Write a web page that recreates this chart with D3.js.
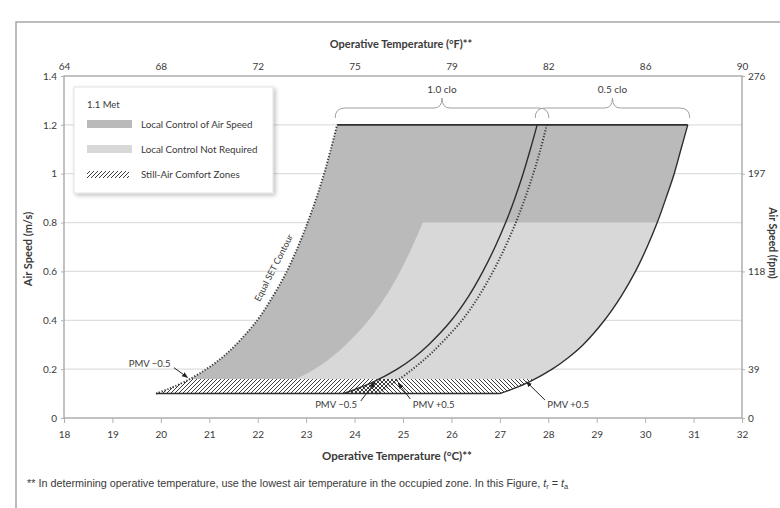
<!DOCTYPE html>
<html>
<head>
<meta charset="utf-8">
<script src="https://cdn.jsdelivr.net/npm/d3@7"></script>
<style>
  html, body { margin: 0; padding: 0; background: #fff; }
  svg { display: block; }
  text { font-family: Lato, "Open Sans", sans-serif; fill: #3a3a3a; }
  .foot { font-family: "Liberation Sans", Arial, sans-serif; }
</style>
</head>
<body>
<svg id="chart" width="780" height="508"></svg>
<script>
// ---------- data ----------
const celsiusTicks = [18, 19, 20, 21, 22, 23, 24, 25, 26, 27, 28, 29, 30, 31, 32];
const fahrenheitAt = [18, 20, 22, 24, 26, 28, 30, 32];
const fahrenheitLabels = ["64", "68", "72", "75", "79", "82", "86", "90"];
const speedTicks = [0, 0.2, 0.4, 0.6, 0.8, 1, 1.2, 1.4];
const fpmAt = [0, 0.2, 0.6, 1.0, 1.4];
const fpmLabels = ["0", "39", "118", "197", "276"];

// curves: air speed (m/s) and operative temp (°C)
const speeds = [0.10, 0.12, 0.15, 0.20, 0.25, 0.30, 0.40, 0.50, 0.60, 0.70, 0.80, 0.90, 1.00, 1.10, 1.20];
const tLeft10clo  = [19.90, 20.17, 20.51, 20.94, 21.28, 21.55, 21.99, 22.32, 22.60, 22.83, 23.03, 23.21, 23.37, 23.51, 23.64];
const tRight10clo = [24.45, 24.63, 24.86, 25.20, 25.50, 25.76, 26.22, 26.57, 26.86, 27.11, 27.33, 27.52, 27.69, 27.84, 27.97];
const tLeft05clo  = [23.76, 24.05, 24.41, 24.88, 25.24, 25.53, 26.00, 26.36, 26.65, 26.90, 27.12, 27.31, 27.48, 27.63, 27.77];
const tRight05clo = [27.00, 27.28, 27.63, 28.08, 28.43, 28.72, 29.16, 29.51, 29.80, 30.04, 30.25, 30.43, 30.60, 30.74, 30.88];
// upper edge of "local control not required" (0.15 m/s .. 0.8 m/s)
const edgeSpeeds = [0.15, 0.20, 0.25, 0.30, 0.40, 0.50, 0.60, 0.70, 0.80];
const tNoControl = [22.70, 23.17, 23.53, 23.82, 24.29, 24.65, 24.94, 25.19, 25.41];

const stillAirTop = 0.16, stillAirBottom = 0.10, noControlTop = 0.8, maxSpeed = 1.2;

const legendItems = ["Local Control of Air Speed", "Local Control Not Required", "Still-Air Comfort Zones"];
const cloLabels = ["1.0 clo", "0.5 clo"];

// ---------- setup ----------
const svg = d3.select("#chart");
const x = d3.scaleLinear().domain([18, 32]).range([64, 742]);
const y = d3.scaleLinear().domain([0, 1.4]).range([418, 76]);

const DARK = "#bababa", LIGHT = "#d8d8d8", INK = "#2e2e2e";

const pts = (ts, vs) => ts.map((t, i) => [t, vs[i]]);
const left10 = pts(tLeft10clo, speeds), right10 = pts(tRight10clo, speeds);
const left05 = pts(tLeft05clo, speeds), right05 = pts(tRight05clo, speeds);
const noCtl = pts(tNoControl, edgeSpeeds);

const defs = svg.append("defs");
function hatch(id, d) {
  defs.append("pattern").attr("id", id).attr("patternUnits", "userSpaceOnUse")
    .attr("width", 4).attr("height", 4)
    .append("path").attr("d", d).attr("stroke", "#333").attr("stroke-width", 0.95);
}
hatch("hatchF", "M-1,1 l2,-2 M0,4 l4,-4 M3,5 l2,-2");
hatch("hatchB", "M-1,3 l2,2 M0,0 l4,4 M3,-1 l2,2");

function bandClip(id, v0, v1) {
  defs.append("clipPath").attr("id", id).append("rect")
    .attr("x", 0).attr("width", 780).attr("y", y(v1)).attr("height", y(v0) - y(v1));
}
bandClip("clipStill", stillAirBottom, stillAirTop);
bandClip("clipAbove", stillAirTop, maxSpeed);
bandClip("clipLight", stillAirTop, noControlTop);

const shadow = defs.append("filter").attr("id", "shadow").attr("x", "-10%").attr("y", "-10%").attr("width", "130%").attr("height", "130%");
shadow.append("feDropShadow").attr("dx", 2).attr("dy", 2).attr("stdDeviation", 2).attr("flood-color", "#000").attr("flood-opacity", 0.25);

// outer frame
svg.append("rect").attr("x", 16).attr("y", 22).attr("width", 800).attr("height", 520)
  .attr("fill", "none").attr("stroke", "#a8a8a8").attr("stroke-width", 1.5);

// ---------- grid + axes ----------
svg.append("g").selectAll("line").data(speedTicks.filter((v) => v > 0 && v < 1.4)).join("line")
  .attr("x1", x(18)).attr("x2", x(32)).attr("y1", (v) => y(v)).attr("y2", (v) => y(v))
  .attr("stroke", "#dedede").attr("stroke-width", 1.2);

svg.append("rect").attr("x", x(18)).attr("y", y(1.4)).attr("width", x(32) - x(18)).attr("height", y(0) - y(1.4))
  .attr("fill", "none").attr("stroke", "#9a9a9a").attr("stroke-width", 1.2);

const tickStyle = (g) => {
  g.select(".domain").remove();
  g.selectAll(".tick line").attr("stroke", "#b0b0b0");
  g.selectAll(".tick text").attr("font-size", 10).attr("fill", "#444").attr("font-family", "Lato, sans-serif");
};

svg.append("g").attr("transform", `translate(0,${y(0)})`)
  .call(d3.axisBottom(x).tickValues(celsiusTicks).tickSize(5).tickPadding(8).tickFormat(d3.format("d")))
  .call(tickStyle);

svg.append("g").attr("transform", `translate(0,${y(1.4)})`)
  .call(d3.axisTop(x).tickValues(fahrenheitAt).tickSize(0).tickPadding(6).tickFormat((d, i) => fahrenheitLabels[i]))
  .call(tickStyle);

svg.append("g").attr("transform", `translate(${x(18)},0)`)
  .call(d3.axisLeft(y).tickValues(speedTicks).tickSize(3).tickPadding(4).tickFormat((d) => String(d)))
  .call(tickStyle);

svg.append("g").attr("transform", `translate(${x(32)},0)`)
  .call(d3.axisRight(y).tickValues(fpmAt).tickSize(3).tickPadding(3).tickFormat((d, i) => fpmLabels[i]))
  .call(tickStyle);

// axis titles
svg.append("text").attr("x", 401).attr("y", 48).attr("text-anchor", "middle")
  .attr("font-size", 11).attr("font-weight", 700).text("Operative Temperature (°F)**");
svg.append("text").attr("x", 397).attr("y", 460).attr("text-anchor", "middle")
  .attr("font-size", 11.5).attr("font-weight", 700).text("Operative Temperature (°C)**");
svg.append("text").attr("transform", `translate(32,${(y(0) + y(1.4)) / 2 + 2}) rotate(-90)`).attr("text-anchor", "middle")
  .attr("font-size", 11).attr("font-weight", 700).text("Air Speed (m/s)");
svg.append("text").attr("transform", `translate(769,243) rotate(90)`).attr("text-anchor", "middle")
  .attr("font-size", 10.5).attr("font-weight", 700).text("Air Speed (fpm)");

// ---------- regions ----------
const line = d3.line().x((d) => x(d[0])).y((d) => y(d[1])).curve(d3.curveCatmullRom.alpha(0.5));
const between = (left, right) => line(left) + line(right.slice().reverse()).replace(/^M/, "L") + "Z";

const plot = svg.append("g");
// local control of air speed (whole zone above still air)
plot.append("path").attr("d", between(left10, right05)).attr("fill", DARK).attr("clip-path", "url(#clipAbove)");
// local control not required (up to 0.8 m/s)
plot.append("path").attr("d", between(noCtl, right05)).attr("fill", LIGHT).attr("clip-path", "url(#clipLight)");
// still-air zones
plot.append("path").attr("d", between(left10, right05)).attr("fill", "#fff").attr("clip-path", "url(#clipStill)");
plot.append("path").attr("d", between(left10, right10)).attr("fill", "url(#hatchF)").attr("clip-path", "url(#clipStill)");
plot.append("path").attr("d", between(left05, right05)).attr("fill", "url(#hatchB)").attr("clip-path", "url(#clipStill)");

// boundaries
[left10, right10].forEach((c) => plot.append("path").attr("d", line(c)).attr("fill", "none").attr("stroke", "#3a3a3a")
  .attr("stroke-width", 2).attr("stroke-dasharray", "1.2,1.8"));
[left05, right05].forEach((c) => plot.append("path").attr("d", line(c)).attr("fill", "none").attr("stroke", INK)
  .attr("stroke-width", 1.4));
plot.append("line").attr("x1", x(tLeft10clo[tLeft10clo.length - 1])).attr("x2", x(tRight05clo[tRight05clo.length - 1]))
  .attr("y1", y(maxSpeed)).attr("y2", y(maxSpeed)).attr("stroke", INK).attr("stroke-width", 1.6);
plot.append("line").attr("x1", x(tLeft10clo[0])).attr("x2", x(tRight05clo[0]))
  .attr("y1", y(stillAirBottom)).attr("y2", y(stillAirBottom)).attr("stroke", INK).attr("stroke-width", 1.6);

// ---------- clo braces ----------
function brace(x0, x1) {
  const xm = (x0 + x1) / 2, yb = 118, yh = 108, yp = 98;
  return `M${x0},${yb} Q${x0},${yh} ${x0 + 10},${yh} L${xm - 8},${yh} Q${xm},${yh} ${xm},${yp}` +
    ` Q${xm},${yh} ${xm + 8},${yh} L${x1 - 10},${yh} Q${x1},${yh} ${x1},${yb}`;
}
[[tLeft10clo, tRight10clo], [tLeft05clo, tRight05clo]].forEach(([l, r], i) => {
  const x0 = x(l[l.length - 1]) - 2, x1 = x(r[r.length - 1]) + 2;
  svg.append("path").attr("d", brace(x0, x1)).attr("fill", "none").attr("stroke", "#a0a0a0").attr("stroke-width", 1);
  svg.append("text").attr("x", (x0 + x1) / 2).attr("y", 93).attr("text-anchor", "middle")
    .attr("font-size", 10).text(cloLabels[i]);
});

// ---------- annotations ----------
const arrowHead = defs.append("marker").attr("id", "arrow").attr("viewBox", "0 0 10 10")
  .attr("refX", 9).attr("refY", 5).attr("markerWidth", 6).attr("markerHeight", 6).attr("orient", "auto");
arrowHead.append("path").attr("d", "M0,1 L10,5 L0,9 Z").attr("fill", "#222");

const notes = [
  { text: "PMV −0.5", tx: 20.2, tv: 0.21, anchor: "end", from: [20.27, 0.206], to: [20.55, 0.166] },
  { text: "PMV −0.5", tx: 24.05, tv: 0.04, anchor: "end", from: [24.13, 0.07], to: [24.42, 0.146] },
  { text: "PMV +0.5", tx: 25.2, tv: 0.04, anchor: "start", from: [25.15, 0.078], to: [24.9, 0.143] },
  { text: "PMV +0.5", tx: 27.98, tv: 0.04, anchor: "start", from: [27.93, 0.074], to: [27.55, 0.148] },
];
notes.forEach((n) => {
  svg.append("line").attr("x1", x(n.from[0])).attr("y1", y(n.from[1])).attr("x2", x(n.to[0])).attr("y2", y(n.to[1]))
    .attr("stroke", "#222").attr("stroke-width", 1).attr("marker-end", "url(#arrow)");
  svg.append("text").attr("x", x(n.tx)).attr("y", y(n.tv)).attr("text-anchor", n.anchor)
    .attr("font-size", 9.5).text(n.text);
});

// label sits just left of the left SET contour, around 0.6 m/s
svg.append("text").attr("transform", `translate(${x(22.64) - 15},${y(0.615)}) rotate(-63)`).attr("text-anchor", "middle")
  .attr("dy", "0.35em").attr("font-size", 9).text("Equal SET Contour");

// ---------- legend ----------
const lg = svg.append("g").attr("transform", "translate(74,87)");
lg.append("rect").attr("width", 199).attr("height", 106).attr("fill", "#fff").attr("stroke", "#e2e2e2").attr("filter", "url(#shadow)");
lg.append("text").attr("x", 13).attr("y", 21).attr("font-size", 9.5).text("1.1 Met");
const swatchFills = [DARK, LIGHT, "url(#hatchF)"];
legendItems.forEach((label, i) => {
  const cy = 37 + i * 25;
  lg.append("rect").attr("x", 13).attr("y", cy - (i === 2 ? 3 : 4)).attr("width", i === 2 ? 42 : 45).attr("height", i === 2 ? 7 : 8)
    .attr("fill", swatchFills[i]);
  lg.append("text").attr("x", 67).attr("y", cy + 3.5).attr("font-size", 9.8).text(label);
});

// ---------- footnote ----------
const foot = svg.append("text").attr("class", "foot").attr("x", 27).attr("y", 487).attr("font-size", 10.8);
foot.append("tspan").text("** In determining operative temperature, use the lowest air temperature in the occupied zone. In this Figure, ");
foot.append("tspan").attr("font-style", "italic").text("t");
foot.append("tspan").attr("font-size", 7.5).attr("dy", 2).text("r");
foot.append("tspan").attr("dy", -2).text(" = ");
foot.append("tspan").attr("font-style", "italic").text("t");
foot.append("tspan").attr("font-size", 7.5).attr("dy", 2).text("a");
</script>
</body>
</html>
